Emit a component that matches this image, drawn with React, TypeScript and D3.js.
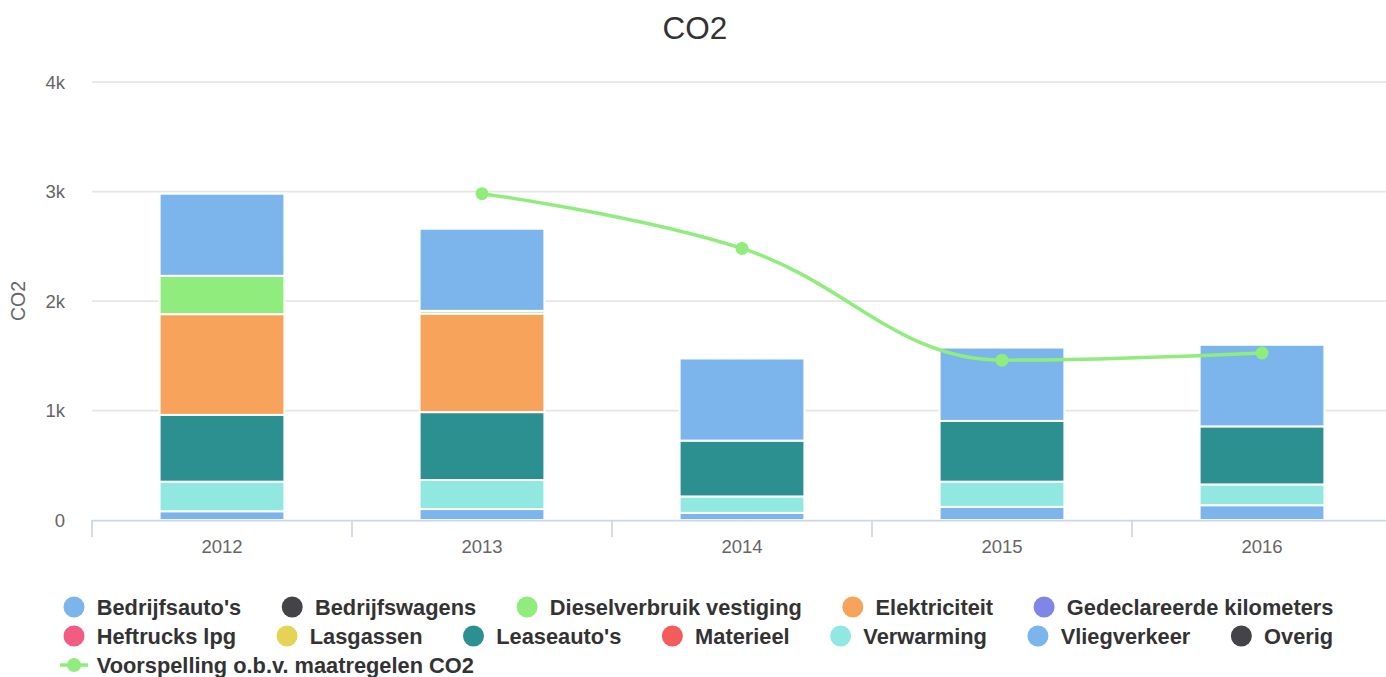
import React, { useEffect, useRef } from "react";
import * as d3 from "d3";

const years = ["2012", "2013", "2014", "2015", "2016"];
const seriesNames = [
  "Bedrijfsauto's",
  "Bedrijfswagens",
  "Dieselverbruik vestiging",
  "Elektriciteit",
  "Gedeclareerde kilometers",
  "Heftrucks lpg",
  "Lasgassen",
  "Leaseauto's",
  "Materieel",
  "Verwarming",
  "Vliegverkeer",
  "Overig",
];
const bedrijfsautos = [750, 750, 750, 670, 745];
const bedrijfswagens = [0, 0, 0, 0, 0];
const diesel = [350, 25, 0, 0, 0];
const elektriciteit = [920, 900, 0, 0, 0];
const gedeclareerd = [0, 0, 0, 0, 0];
const heftrucks = [0, 0, 0, 0, 0];
const lasgassen = [0, 0, 0, 0, 0];
const leaseautos = [610, 620, 510, 555, 530];
const materieel = [0, 0, 0, 0, 0];
const verwarming = [270, 265, 150, 230, 190];
const vliegverkeer = [80, 100, 65, 120, 135];
const overig = [0, 0, 0, 0, 0];
const lineName = "Voorspelling o.b.v. maatregelen CO2";
const voorspelling: (number | null)[] = [null, 2980, 2480, 1460, 1525];
const yTicks = [0, 1000, 2000, 3000, 4000];
const yTickLabels = ["0", "1k", "2k", "3k", "4k"];

const seriesValues = [
  bedrijfsautos, bedrijfswagens, diesel, elektriciteit, gedeclareerd, heftrucks,
  lasgassen, leaseautos, materieel, verwarming, vliegverkeer, overig,
];

const palette = [
  "#7cb5ec", "#434348", "#90ed7d", "#f7a35c", "#8085e9", "#f15c80",
  "#e4d354", "#2b908f", "#f45b5b", "#91e8e1", "#7cb5ec", "#434348",
];
const lineColor = "#90ed7d";

const FONT = "'Liberation Sans', Arial, Helvetica, sans-serif";

function hcSpline(pts: [number, number][]): string {
  const smoothing = 1.5;
  const denom = smoothing + 1;
  const n = pts.length;
  const ctrl: ({ lx: number; ly: number; rx: number; ry: number } | null)[] = pts.map(() => null);
  for (let i = 1; i < n - 1; i++) {
    const [lastX, lastY] = pts[i - 1];
    const [plotX, plotY] = pts[i];
    const [nextX, nextY] = pts[i + 1];
    const lcx = (smoothing * plotX + lastX) / denom;
    let lcy = (smoothing * plotY + lastY) / denom;
    const rcx = (smoothing * plotX + nextX) / denom;
    let rcy = (smoothing * plotY + nextY) / denom;
    if (rcx !== lcx) {
      const corr = ((rcy - lcy) * (rcx - plotX)) / (rcx - lcx) + plotY - rcy;
      lcy += corr;
      rcy += corr;
    }
    if (lcy > lastY && lcy > plotY) {
      lcy = Math.max(lastY, plotY);
      rcy = 2 * plotY - lcy;
    } else if (lcy < lastY && lcy < plotY) {
      lcy = Math.min(lastY, plotY);
      rcy = 2 * plotY - lcy;
    }
    if (rcy > nextY && rcy > plotY) {
      rcy = Math.max(nextY, plotY);
      lcy = 2 * plotY - rcy;
    } else if (rcy < nextY && rcy < plotY) {
      rcy = Math.min(nextY, plotY);
      lcy = 2 * plotY - rcy;
    }
    ctrl[i] = { lx: lcx, ly: lcy, rx: rcx, ry: rcy };
  }
  const path = d3.path();
  path.moveTo(pts[0][0], pts[0][1]);
  for (let i = 1; i < n; i++) {
    const prev = ctrl[i - 1];
    const cur = ctrl[i];
    path.bezierCurveTo(
      prev ? prev.rx : pts[i - 1][0],
      prev ? prev.ry : pts[i - 1][1],
      cur ? cur.lx : pts[i][0],
      cur ? cur.ly : pts[i][1],
      pts[i][0],
      pts[i][1]
    );
  }
  return path.toString();
}

export default function App() {
  const ref = useRef<SVGSVGElement>(null);

  useEffect(() => {
    const svg = d3.select(ref.current);
    svg.selectAll("*").remove();

    const plotLeft = 92;
    const plotRight = 1392;
    const plotTop = 82;
    const plotBottom = 520;

    const x = d3.scaleBand<string>().domain(years).range([plotLeft, plotRight]).paddingInner(0).paddingOuter(0);
    const y = d3.scaleLinear().domain([0, 4000]).range([plotBottom, plotTop]);

    // Title
    svg.append("text")
      .attr("x", 695).attr("y", 39)
      .attr("text-anchor", "middle")
      .attr("font-family", FONT).attr("font-size", 31.5)
      .attr("fill", "#333333")
      .text("CO2");

    // Gridlines
    svg.append("g").selectAll("line")
      .data(yTicks.filter((t) => t !== 0))
      .join("line")
      .attr("x1", plotLeft).attr("x2", plotRight)
      .attr("y1", (d) => y(d)).attr("y2", (d) => y(d))
      .attr("stroke", "#e6e6e6").attr("stroke-width", 1.75);

    // Y labels
    svg.append("g").selectAll("text")
      .data(yTicks)
      .join("text")
      .attr("x", 65)
      .attr("y", (d) => y(d) + 6.5)
      .attr("text-anchor", "end")
      .attr("font-family", FONT).attr("font-size", 18.5)
      .attr("fill", "#666666")
      .text((d, i) => yTickLabels[i]);

    // Y title
    svg.append("text")
      .attr("transform", `translate(25,301) rotate(-90)`)
      .attr("text-anchor", "middle")
      .attr("font-family", FONT).attr("font-size", 19.5)
      .attr("fill", "#666666")
      .text("CO2");

    // Stacked bars (first series on top, as reversed stacks)
    const bw = x.bandwidth() * 0.6 * 0.8;
    const barsG = svg.append("g");
    years.forEach((yr, yi) => {
      let cum = 0;
      for (let s = seriesValues.length - 1; s >= 0; s--) {
        const v = seriesValues[s][yi];
        if (!v) continue;
        const y0 = y(cum);
        const y1 = y(cum + v);
        cum += v;
        const cx = (x(yr) as number) + x.bandwidth() / 2;
        barsG.append("rect")
          .attr("x", cx - bw / 2)
          .attr("y", y1)
          .attr("width", bw)
          .attr("height", y0 - y1)
          .attr("fill", palette[s])
          .attr("stroke", "#ffffff")
          .attr("stroke-width", 2);
      }
    });

    // X axis line and ticks
    svg.append("line")
      .attr("x1", plotLeft).attr("x2", plotRight)
      .attr("y1", plotBottom + 0.5).attr("y2", plotBottom + 0.5)
      .attr("stroke", "#ccd6eb").attr("stroke-width", 1.75);
    const tickPos = years.map((yr) => x(yr) as number).concat([plotRight]);
    svg.append("g").selectAll("line")
      .data(tickPos)
      .join("line")
      .attr("x1", (d) => d).attr("x2", (d) => d)
      .attr("y1", plotBottom).attr("y2", plotBottom + 17)
      .attr("stroke", "#ccd6eb").attr("stroke-width", 1.75);

    svg.append("g").selectAll("text")
      .data(years)
      .join("text")
      .attr("x", (d) => (x(d) as number) + x.bandwidth() / 2)
      .attr("y", 553)
      .attr("text-anchor", "middle")
      .attr("font-family", FONT).attr("font-size", 18.5)
      .attr("fill", "#666666")
      .text((d) => d);

    // Spline line
    const pts: [number, number][] = [];
    voorspelling.forEach((v, i) => {
      if (v === null) return;
      pts.push([(x(years[i]) as number) + x.bandwidth() / 2, y(v)]);
    });
    svg.append("path")
      .attr("d", hcSpline(pts))
      .attr("fill", "none")
      .attr("stroke", lineColor)
      .attr("stroke-width", 3.5)
      .attr("stroke-linejoin", "round")
      .attr("stroke-linecap", "round");
    svg.append("g").selectAll("circle")
      .data(pts)
      .join("circle")
      .attr("cx", (d) => d[0]).attr("cy", (d) => d[1])
      .attr("r", 6.5)
      .attr("fill", lineColor);

    // Legend
    const legend = svg.append("g");
    const items = seriesNames.map((n, i) => ({ name: n, color: palette[i], line: false }))
      .concat([{ name: lineName, color: lineColor, line: true }]);
    const startX = 60;
    const maxX = 1380;
    const rowY = [607, 636, 665];
    let cx = startX;
    let row = 0;
    const symW = 28;
    const symPad = 8.75;
    const dist = 37;
    items.forEach((it) => {
      const t = legend.append("text")
        .attr("font-family", FONT).attr("font-size", 21.8)
        .attr("font-weight", "bold")
        .attr("fill", "#333333")
        .text(it.name);
      const tw = (t.node() as SVGTextElement).getComputedTextLength();
      const w = symW + symPad + tw;
      if (cx + w > maxX && cx > startX) {
        row += 1;
        cx = startX;
      }
      const ry = rowY[row] !== undefined ? rowY[row] : rowY[0] + row * 29;
      t.attr("x", cx + symW + symPad).attr("y", ry + 7.8);
      if (it.line) {
        legend.append("line")
          .attr("x1", cx).attr("x2", cx + symW)
          .attr("y1", ry).attr("y2", ry)
          .attr("stroke", it.color).attr("stroke-width", 3.5);
      }
      legend.append("circle")
        .attr("cx", cx + symW / 2).attr("cy", ry)
        .attr("r", it.line ? 7 : 10.5)
        .attr("fill", it.color);
      cx += w + dist;
    });
  }, []);

  return (
    <svg
      ref={ref}
      width={1386}
      height={677}
      style={{ position: "absolute", left: 0, top: 0, background: "#ffffff" }}
    />
  );
}
